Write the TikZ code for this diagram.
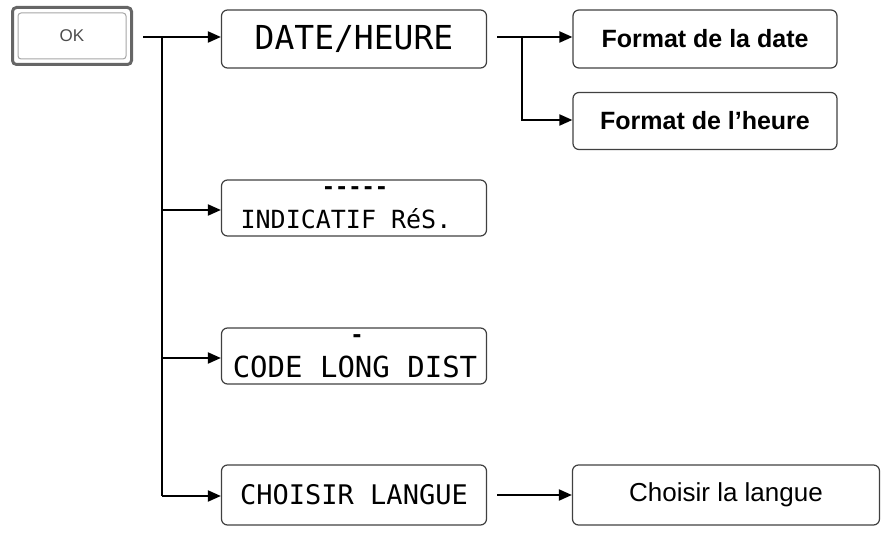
\documentclass[tikz,border=0pt]{standalone}
\usepackage{fontspec}
\setmainfont{Liberation Sans}
\newfontfamily\lcd{DejaVu Sans Mono}
\usetikzlibrary{arrows.meta}
\begin{document}
\begin{tikzpicture}[x=1pt,y=-1pt,
 box/.style={draw=black!75,line width=1.2pt,rounded corners=6pt,inner sep=0pt},
 arr/.style={line width=2pt,-{Triangle[length=13pt,width=11pt]}},
 ln/.style={line width=2pt},
 dots/.style={inner sep=0pt,font=\lcd\bfseries\fontsize{22}{22}\selectfont}]
\useasboundingbox (0,0) rectangle (887,534);
\node[draw=black!60,line width=3pt,rounded corners=4pt,minimum width=119pt,minimum height=57pt,fill=white] (ok) at (72,36) {};
\node[draw=black!35,line width=1pt,rounded corners=3pt,minimum width=108pt,minimum height=46pt] (okin) at (72,36) {\fontsize{17}{17}\selectfont\color{black!70}OK};
\node[box,minimum width=265pt,minimum height=58pt] (dh) at (354,39) {\lcd\fontsize{33}{33}\selectfont DATE/HEURE};
\node[box,minimum width=265pt,minimum height=56pt] (ir) at (354,208) {};
\node[inner sep=0pt] (irt) at (346,219) {\lcd\fontsize{25}{25}\selectfont INDICATIF RéS.};
\node[dots] (ird) at (355,191) {-----};
\node[box,minimum width=265pt,minimum height=56pt] (cl) at (354,356) {};
\node[inner sep=0pt] (clt) at (355,367) {\lcd\fontsize{29}{29}\selectfont CODE LONG DIST};
\node[dots] (cld) at (357,339) {-};
\node[box,minimum width=265pt,minimum height=60pt] (ch) at (354,495) {\lcd\fontsize{27}{27}\selectfont CHOISIR LANGUE\hspace{12pt}};
\node[box,minimum width=264pt,minimum height=58pt] (fd) at (705,39) {\bfseries\fontsize{25}{25}\selectfont Format de la date};
\node[box,minimum width=264pt,minimum height=57pt] (fh) at (705,121) {\bfseries\fontsize{25}{25}\selectfont Format de l'heure};
\node[box,minimum width=307pt,minimum height=60pt] (cla) at (726,495) {\fontsize{26}{26}\selectfont Choisir la langue};
\coordinate (t0) at (162,37);
\coordinate (t1) at (162,496);
\draw[ln] (ok.east|-t0) ++(10,0) -- (t0);
\draw[ln] (t0) -- (t1);
\draw[arr] (t0) -- (dh.west|-t0);
\draw[arr] (162,210) -- (ir.west|-0,210);
\draw[arr] (162,358) -- (cl.west|-0,358);
\draw[arr] (t1) -- (ch.west|-t1);
\coordinate (b0) at (522,37);
\draw[ln] (dh.east|-b0) ++(10,0) -- (b0);
\draw[arr] (b0) -- (fd.west|-b0);
\draw[arr] (b0) |- (fh.west|-0,120);
\draw[arr] (ch.east|-0,495) ++(10,0) -- (cla.west|-0,495);
\end{tikzpicture}
\end{document}
